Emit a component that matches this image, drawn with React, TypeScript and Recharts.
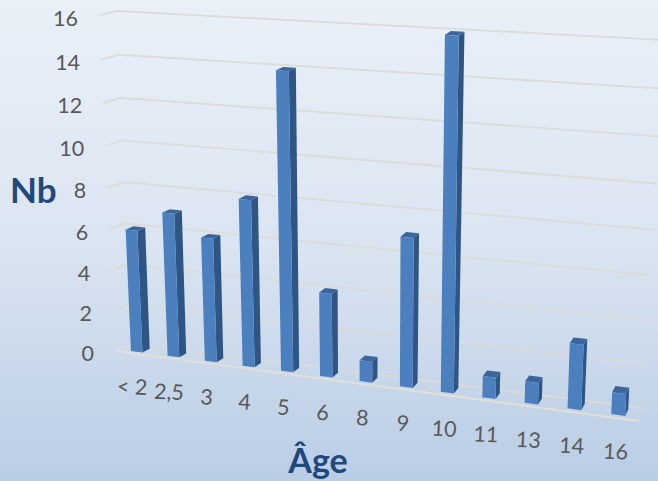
import { BarChart, Bar, XAxis, YAxis, CartesianGrid } from 'recharts';

const ages = ['< 2', '2,5', '3', '4', '5', '6', '8', '9', '10', '11', '13', '14', '16'];
const counts = [6, 7, 6, 8, 14, 4, 1, 7, 16, 1, 1, 3, 1];
const valueTicks = [0, 2, 4, 6, 8, 10, 12, 14, 16];

const chartData = ages.map((age, i) => ({ age, nb: counts[i] }));

const W = 658;
const H = 481;
const M = 40; // marges du graphique "à plat"
const plotW = W - 2 * M;
const plotH = H - 2 * M;

// coins du mur du fond à l'écran
const wall = { bl: [130, 344], br: [645, 408], tr: [664, 40], tl: [117, 11] };
// décalage profondeur (fond -> devant)
const depth = { bl: [-15, 7], tl: [-18, 4.5], br: [-6, 13], tr: [-8, 10] };

const [x0, y0] = wall.bl;
const [x1, y1] = wall.br;
const [x2, y2] = wall.tr;
const [x3, y3] = wall.tl;
const dx1 = x1 - x2, dx2 = x3 - x2, sx = x0 - x1 + x2 - x3;
const dy1 = y1 - y2, dy2 = y3 - y2, sy = y0 - y1 + y2 - y3;
const den = dx1 * dy2 - dx2 * dy1;
const g = (sx * dy2 - dx2 * sy) / den;
const h = (dx1 * sy - sx * dy1) / den;
const a = x1 - x0 + g * x1, b = x3 - x0 + h * x3;
const d = y1 - y0 + g * y1, e = y3 - y0 + h * y3;

// u: 0..1 le long des catégories, v: 0..1 en hauteur, z: 0 fond .. 1 devant
function project(u: number, v: number, z: number) {
    const w = g * u + h * v + 1;
    const ox = (depth.bl[0] * (1 - u) + depth.br[0] * u) * (1 - v) + (depth.tl[0] * (1 - u) + depth.tr[0] * u) * v;
    const oy = (depth.bl[1] * (1 - u) + depth.br[1] * u) * (1 - v) + (depth.tl[1] * (1 - u) + depth.tr[1] * u) * v;
    return [(a * u + b * v + x0) / w + ox * z, (d * u + e * v + y0) / w + oy * z];
}

const toU = (x: number) => (x - M) / plotW;
const toV = (y: number) => 1 - (y - M) / plotH;
const pts = (list: number[][]) => list.map(p => `${p[0]},${p[1]}`).join(' ');

function Bar3D({ x, y, width, height }: any) {
    const ul = toU(x), ur = toU(x + width);
    const vb = toV(y + height), vt = toV(y);
    const zf = 0.76, zb = 0.26;
    return (
        <g>
            <polygon points={pts([project(ur, vb, zf), project(ur, vb, zb), project(ur, vt, zb), project(ur, vt, zf)])} fill="#2f5585" />
            <polygon points={pts([project(ul, vt, zf), project(ur, vt, zf), project(ur, vt, zb), project(ul, vt, zb)])} fill="#3b659b" />
            <polygon points={pts([project(ul, vb, zf), project(ur, vb, zf), project(ur, vt, zf), project(ul, vt, zf)])} fill="#4c7fbe" />
        </g>
    );
}

function GridLine({ y1: gy, index }: any) {
    const v = toV(gy);
    const front = project(0, v, 1), back = project(0, v, 0), right = project(1, v, 0);
    return (
        <g key={index}>
            <polyline points={pts([front, back, right])} fill="none" stroke="#dcdad6" strokeWidth={1.8} strokeOpacity={0.9} />
            {v < 0.001 && <line x1={front[0]} y1={front[1]} x2={project(1, 0, 1)[0]} y2={project(1, 0, 1)[1]} stroke="#e3dfd8" strokeWidth={1.8} />}
        </g>
    );
}

function AgeTick({ x, payload }: any) {
    const [px, py] = project(toU(x), 0, 1);
    const tx = px - 1.5, ty = py + 41;
    return (
        <text x={tx} y={ty} textAnchor="middle" fontSize={21.5} fontFamily="Lato" fill="#595959" transform={`rotate(3 ${tx} ${ty})`}>
            {payload.value}
        </text>
    );
}

function NbTick({ y, payload }: any) {
    const [px, py] = project(0, toV(y), 1);
    return (
        <text x={px - 21} y={py + 10} textAnchor="end" fontSize={21.5} fontFamily="Lato" fill="#595959">
            {payload.value}
        </text>
    );
}

export default function App() {
    return (
        <div style={{
            position: 'absolute', left: 0, top: 0, width: W, height: H,
            background: 'linear-gradient(180deg, #e9f0f8 0%, #dbe5f1 50%, #b9cde5 100%)'
        }}>
            <BarChart width={W} height={H} data={chartData} margin={{ top: M, right: M, bottom: M - 1, left: M - 1 }} barCategoryGap="34%">
                <CartesianGrid vertical={false} horizontal={(p: any) => <GridLine {...p} />} />
                <XAxis dataKey="age" height={1} axisLine={false} tickLine={false} interval={0} tick={<AgeTick />} />
                <YAxis width={1} domain={[0, 16]} ticks={valueTicks} axisLine={false} tickLine={false} tick={<NbTick />} />
                <Bar dataKey="nb" isAnimationActive={false} shape={<Bar3D />} />
                <text x={10} y={203} fontSize={35} fontWeight={700} fontFamily="Lato" fill="#1f497d">Nb</text>
                <text x={318} y={473} textAnchor="middle" fontSize={34} fontWeight={700} fontFamily="Lato" fill="#1f497d">Âge</text>
            </BarChart>
        </div>
    );
}
